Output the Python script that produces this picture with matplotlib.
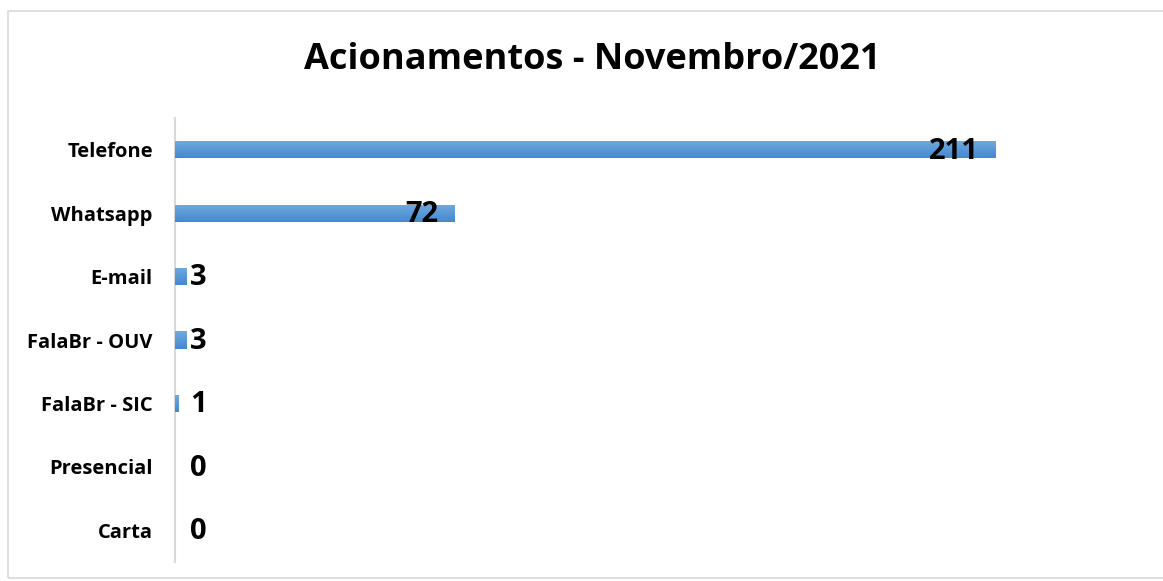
import matplotlib.pyplot as plt
import numpy as np
from matplotlib.patches import Rectangle

categorias = ['Telefone', 'Whatsapp', 'E-mail', 'FalaBr - OUV', 'FalaBr - SIC', 'Presencial', 'Carta']
quantidades = [211, 72, 3, 3, 1, 0, 0]
titulo = 'Acionamentos - Novembro/2021'

plt.rcParams['font.family'] = ['Open Sans', 'DejaVu Sans']

fig = plt.figure(figsize=(11.63, 5.81), dpi=100)
# moldura cinza clara em volta do gráfico
fig.patches.append(Rectangle((8 / 1163, 0.005), 1, 1 - 11 / 581 - 0.005,
                             transform=fig.transFigure, fill=False,
                             edgecolor='#d9d9d9', linewidth=1.2))

ax = fig.add_axes([175 / 1163, 1 - 562 / 581, (1147 - 175) / 1163, (562 - 118) / 581])
y = list(range(len(categorias)))
barras = ax.barh(y, quantidades, height=0.27, color='#5b9bd5')

# degradê vertical em cada barra (mais claro em cima)
grad = np.linspace(0, 1, 50).reshape(-1, 1)
cmap = plt.matplotlib.colors.LinearSegmentedColormap.from_list('g', ['#4389d0', '#72aade'])
for rect in barras:
    if rect.get_width() > 0:
        x0, y0 = rect.get_x(), rect.get_y()
        im = ax.imshow(grad, cmap=cmap, aspect='auto', zorder=3,
                       extent=(x0, x0 + rect.get_width(), y0, y0 + rect.get_height()))
        im.set_clip_path(rect)
ax.set_xlim(0, 250)
ax.set_ylim(len(categorias) - 0.5, -0.5)

ax.set_yticks(y)
ax.set_yticklabels(categorias, fontsize=14.5, fontweight='bold')
ax.tick_params(axis='y', length=0, pad=16)
ax.set_xticks([])
for s in ['top', 'right', 'bottom']:
    ax.spines[s].set_visible(False)
ax.spines['left'].set_color('#d9d9d9')
ax.spines['left'].set_linewidth(1.5)

# rótulos de valor: dentro da barra quando cabe, fora quando não
for rect, v in zip(barras, quantidades):
    cy = rect.get_y() + rect.get_height() / 2
    if v > 20:
        ax.annotate(str(v), (v, cy), xytext=(-12, -1), textcoords='offset points',
                    ha='right', va='center', fontsize=21, fontweight='bold', zorder=5)
    else:
        ax.annotate(str(v), (0, cy), xytext=(11, -1), textcoords='offset points',
                    ha='left', va='center', fontsize=21, fontweight='bold', zorder=5)

fig.text(592 / 1163, 1 - 60 / 581, titulo, ha='center', va='center',
         fontsize=26, fontweight='bold')

fig.savefig('out.png')
